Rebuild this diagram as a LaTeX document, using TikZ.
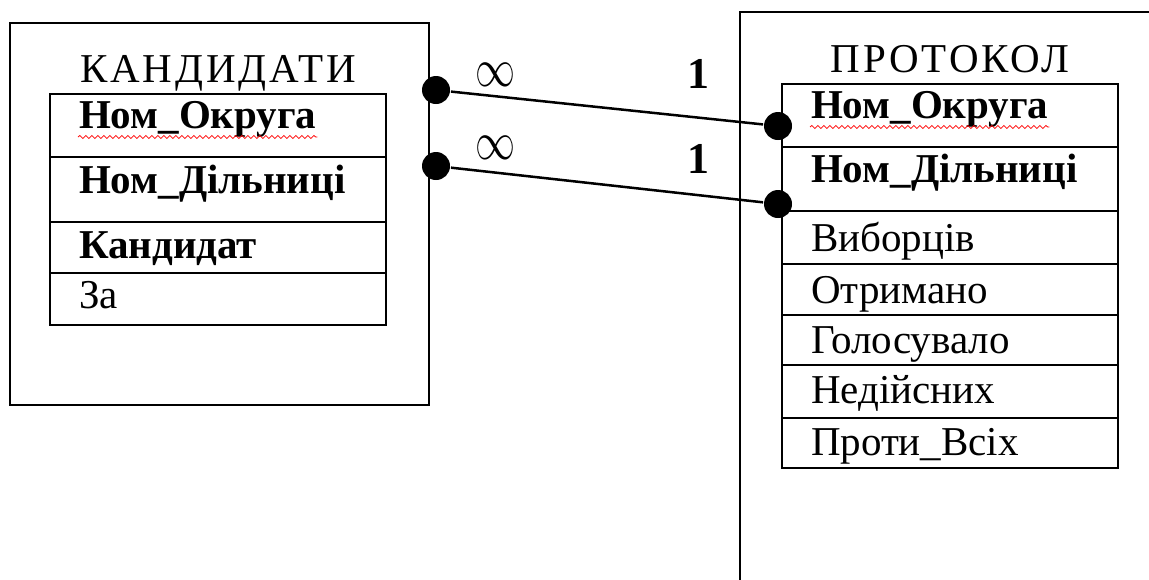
\documentclass[tikz,border=0pt]{standalone}
\usepackage{graphicx}
\usepackage{fontspec}
\setmainfont{Liberation Serif}
\usetikzlibrary{decorations.pathmorphing}
\newcommand{\many}{{\fontsize{10}{12}\selectfont\scalebox{4}[5.4]{$\infty$}}}
\begin{document}
\begin{tikzpicture}[x=1pt, y=-1pt, line width=2pt,
    field/.style={font=\fontsize{41}{48}\selectfont, inner sep=0pt, anchor=base west},
    keyfield/.style={field, font=\fontsize{41}{48}\selectfont\bfseries},
    tabname/.style={field, anchor=base, font=\fontsize{41}{48}\selectfont\addfontfeature{LetterSpace=7}},
    card/.style={inner sep=0pt, font=\fontsize{44}{50}\selectfont\bfseries},
    joint/.style={circle, fill, inner sep=0pt, minimum size=28pt},
    rel/.style={line width=2.5pt},
    spell/.style={red, line width=0.8pt, decorate, decoration={snake, amplitude=1.5pt, segment length=6pt}}]
\useasboundingbox (0,0) rectangle (1149,579);
\clip (0,0) rectangle (1149,579);
% КАНДИДАТИ
\draw (10,23) rectangle (429,405);
\foreach \ya/\yb in {94/157,157/222,222/273,273/325}
    \draw (50,\ya) rectangle (386,\yb);
\node[tabname] (kand) at (218,82) {КАНДИДАТИ};
\node[keyfield] (k1) at (78,128) {Ном\_Округа};
\node[keyfield] (k2) at (78,193) {Ном\_Дільниці};
\node[keyfield] (k3) at (78,258) {Кандидат};
\node[field] (k4) at (78,308) {За};
\draw[spell] ([yshift=-9pt]k1.base west) -- ([yshift=-9pt]k1.base east);
% ПРОТОКОЛ
\draw (1160,12) -- (740,12) -- (740,590);
\foreach \ya/\yb in {84/147,147/211,211/264,264/315,315/365,365/418,418/468}
    \draw (782,\ya) rectangle (1118,\yb);
\node[tabname] (prot) at (950,72) {ПРОТОКОЛ};
\node[keyfield] (p1) at (810,118) {Ном\_Округа};
\node[keyfield] (p2) at (810,182) {Ном\_Дільниці};
\node[field] (p3) at (810,251) {Виборців};
\node[field] (p4) at (810,303) {Отримано};
\node[field] (p5) at (810,353) {Голосувало};
\node[field] (p6) at (810,403) {Недійсних};
\node[field] (p7) at (810,455) {Проти\_Всіх};
\draw[spell] ([yshift=-9pt]p1.base west) -- ([yshift=-9pt]p1.base east);
% зв'язки
\node[joint] (kd1) at (436,90) {};
\node[joint] (kd2) at (436,166) {};
\node[joint] (pd1) at (778,126) {};
\node[joint] (pd2) at (778,204) {};
\path[rel]
    (kd1) edge (pd1)
    (kd2) edge (pd2);
\node[card] (m1) at (495,75) {\many};
\node[card] (m2) at (495,148) {\many};
\node[card] (o1) at (698,74) {1};
\node[card] (o2) at (698,159) {1};
\end{tikzpicture}
\end{document}
